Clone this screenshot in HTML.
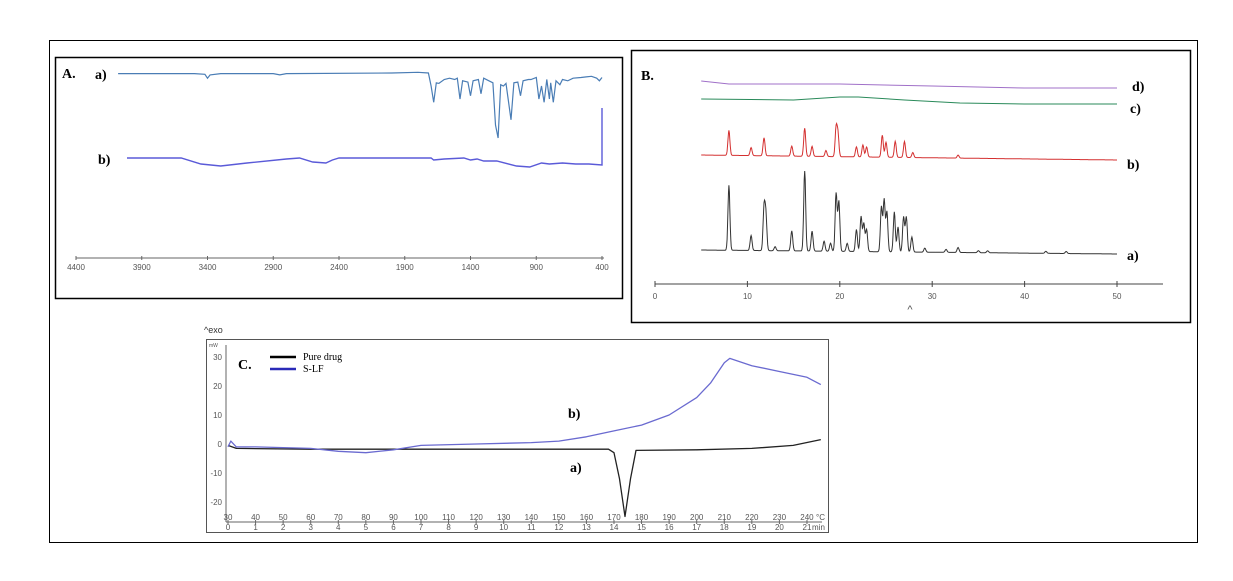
<!DOCTYPE html>
<html><head><meta charset="utf-8"><style>
body{margin:0;background:#fff}
svg{display:block;font-family:"Liberation Sans",sans-serif}
.lab{font-family:"Liberation Serif",serif;font-weight:bold;font-size:14px}
.tk{font-size:8px;fill:#555}
</style></head><body>
<svg id="s" width="1233" height="581" viewBox="0 0 1233 581" xmlns="http://www.w3.org/2000/svg">
<rect x="49.5" y="40.5" width="1148" height="502" fill="none" stroke="#000"/>
<g>
<rect x="55.5" y="57.5" width="567" height="241" fill="none" stroke="#000" stroke-width="1.5"/>
<text x="62" y="78" class="lab">A.</text>
<text x="95" y="79" class="lab">a)</text>
<text x="98" y="164" class="lab">b)</text>
<line x1="76" y1="258" x2="604" y2="258" stroke="#666"/>
<g id="irTicks"></g>
<g id="irMarks"></g>
</g>
<g>
<rect x="631.5" y="50.5" width="559" height="272" fill="none" stroke="#000" stroke-width="1.5"/>
<text x="641" y="80" class="lab">B.</text>
<text x="1132" y="91" class="lab">d)</text>
<text x="1130" y="113" class="lab">c)</text>
<text x="1127" y="169" class="lab">b)</text>
<text x="1127" y="260" class="lab">a)</text>
<line x1="655" y1="284" x2="1163" y2="284" stroke="#444"/>
<text x="910" y="313" font-size="11" fill="#555" text-anchor="middle">^</text>
<g id="xrdTicks"></g>
<g id="xrdMarks"></g>
</g>
<g>
<rect x="206.5" y="339.5" width="622" height="193" fill="none" stroke="#555"/>
<text x="204" y="333" font-size="9" fill="#333">^exo</text>
<text x="209" y="347" font-size="5" fill="#555">mW</text>
<text x="238" y="369" class="lab" font-size="15">C.</text>
<line x1="270" y1="357" x2="296" y2="357" stroke="#000" stroke-width="2.5"/>
<text x="303" y="360" font-family="Liberation Serif,serif" font-size="10">Pure drug</text>
<line x1="270" y1="369" x2="296" y2="369" stroke="#2a2ab8" stroke-width="2.5"/>
<text x="303" y="372" font-family="Liberation Serif,serif" font-size="10">S-LF</text>
<text x="568" y="418" class="lab">b)</text>
<text x="570" y="472" class="lab">a)</text>
<line x1="226" y1="345" x2="226" y2="522" stroke="#666"/>
<line x1="226" y1="522" x2="822" y2="522" stroke="#666"/>
<text x="816" y="520" class="tk" font-size="6">°C</text>
<text x="812" y="530" class="tk" font-size="6">min</text>
<g id="dscTicks"></g>
<g id="dscMarks"></g>
</g>
</svg>
<script>
// IR data
const irWave=[4080,3500,3420,3400,3380,3300,2900,2850,2800,2000,1800,1720,1700,1680,1660,1640,1600,1560,1520,1500,1480,1460,1420,1400,1380,1340,1320,1300,1260,1230,1210,1190,1170,1150,1130,1092,1070,1040,1020,1000,960,940,900,880,860,840,820,800,790,770,750,720,700,660,620,560,520,480,440,420,400];
const irA=[99,99,98,92,97,99,99,97,99,100,101,100,80,55,85,84,90,92,90,92,60,88,86,65,88,90,68,92,88,85,20,0,82,80,84,28,85,86,65,88,90,90,93,60,80,55,90,60,85,55,88,82,90,88,92,93,94,95,92,88,93];
const irWaveB=[4012,3600,3450,3300,3100,2800,2700,2600,2500,2450,2400,1700,1680,1600,1450,1400,1350,1300,1200,1050,950,860,800,700,600,500,400];
const irB=[0,0,6,8,5,1,0,4,5,2,0,0,2,1,0,2,1,3,3,8,9,5,6,5,6,6,7];
const irTickLabels=[4400,3900,3400,2900,2400,1900,1400,900,400];
// XRD data
const xrdPeaksA=[8.0,10.4,11.8,12.0,13.0,14.8,16.2,17.0,18.3,19.0,19.6,19.9,20.8,21.8,22.3,22.6,22.9,24.5,24.8,25.1,25.9,26.3,26.9,27.2,27.8,29.2,31.5,32.8,35,36,42.3,44.5];
const xrdHeightsA=[65,15,42,35,4,20,80,20,10,8,58,50,8,22,35,28,22,45,52,40,40,25,35,35,15,4,3,5,2,2,2,2];
const xrdPeaksB=[8.0,10.4,11.8,14.8,16.2,17.0,18.5,19.6,19.8,21.8,22.5,22.9,24.6,25.0,26.0,27.0,27.9,32.8];
const xrdHeightsB=[25,8,18,10,28,10,6,28,22,10,12,10,22,15,16,16,5,3];
const xrdThetaC=[5,15,20,22,27,33,40,50];
const xrdC=[99,100,97,97,100,103,104,104];
const xrdThetaD=[5,8,20,30,40,50];
const xrdD=[81,84,84,86,88,88];
const xrdTickLabels=[0,10,20,30,40,50];
// DSC data
const dscTempB=[30,31,33,40,60,70,80,90,100,120,140,150,160,170,180,190,200,205,210,212,220,230,240,245];
const dscB=[-1,1,-1,-1,-1.5,-2.5,-3,-2,-0.5,0,0.5,1,2.5,4.5,6.5,10,16,21,28,29.5,27,25,23,20.5];
const dscTempA=[30,33,60,100,168,170,172,174,176,178,200,220,235,245];
const dscA=[-0.5,-1.5,-1.8,-1.8,-1.8,-3,-12,-25,-12,-2.2,-2,-1.5,-0.5,1.5];
const dscYTicks=[30,20,10,0,-10,-20];
const dscTempTicks=[30,40,50,60,70,80,90,100,110,120,130,140,150,160,170,180,190,200,210,220,230,240];
const dscMinTicks=[0,1,2,3,4,5,6,7,8,9,10,11,12,13,14,15,16,17,18,19,20,21];

const NS="http://www.w3.org/2000/svg";
function mk(tag,parent,attrs){const e=document.createElementNS(NS,tag);for(const k in attrs)e.setAttribute(k,attrs[k]);document.getElementById(parent).appendChild(e);return e;}
function pts(xs,ys,fx,fy){return xs.map((v,i)=>fx(v).toFixed(1)+","+fy(ys[i]).toFixed(1)).join(" ");}

const irX=w=>76+(4400-w)/4000*526;
const irYA=t=>138-t*0.65;
const irYB=d=>158+d;
irTickLabels.forEach(v=>{
 const t=mk("text","irTicks",{x:irX(v),y:270,"text-anchor":"middle",class:"tk"});t.textContent=v;
 
 
 const l=mk("line","irTicks",{x1:irX(v),x2:irX(v),y1:256,y2:260,stroke:"#666"});
 
 
});
let p=mk("polyline","irMarks",{points:pts(irWave,irA,irX,irYA),fill:"none",stroke:"#4a7db5","stroke-width":1.2});


p=mk("polyline","irMarks",{points:pts(irWaveB,irB,irX,irYB)+" "+irX(400).toFixed(1)+","+(irYB(irB[irB.length-1])).toFixed(1)+" "+irX(400).toFixed(1)+",108",fill:"none",stroke:"#5a5ad8","stroke-width":1.4});



const xrdX=t=>655+t*9.24;
xrdTickLabels.forEach(v=>{
 const t=mk("text","xrdTicks",{x:xrdX(v),y:299,"text-anchor":"middle",class:"tk","font-size":"10"});t.textContent=v;
 
 
 const l=mk("line","xrdTicks",{x1:xrdX(v),x2:xrdX(v),y1:281,y2:287,stroke:"#444"});
 
 
});
function profile(peaks,hts,b0,b1){const xs=[],ys=[];for(let t=5;t<=50.001;t+=0.05){let h=0;peaks.forEach((pk,i)=>{h+=hts[i]*Math.exp(-Math.pow((t-pk)/0.15,2));});xs.push(t);ys.push(b0+(b1-b0)*(t-5)/45-h);}return [xs,ys];}
let pa=profile(xrdPeaksA,xrdHeightsA,250,254);
p=mk("polyline","xrdMarks",{points:pts(pa[0],pa[1],xrdX,v=>v),fill:"none",stroke:"#333","stroke-width":1});


let pb=profile(xrdPeaksB,xrdHeightsB,155,160);
p=mk("polyline","xrdMarks",{points:pts(pb[0],pb[1],xrdX,v=>v),fill:"none",stroke:"#d43030","stroke-width":1});


p=mk("polyline","xrdMarks",{points:pts(xrdThetaC,xrdC,xrdX,v=>v),fill:"none",stroke:"#2a8a5a","stroke-width":1});


p=mk("polyline","xrdMarks",{points:pts(xrdThetaD,xrdD,xrdX,v=>v),fill:"none",stroke:"#a070c8","stroke-width":1});



const dscX=T=>228+(T-30)*2.757;
const dscY=v=>444-v*2.9;
dscYTicks.forEach(v=>{
 const t=mk("text","dscTicks",{x:222,y:dscY(v)+3,"text-anchor":"end",class:"tk","font-size":"6"});t.textContent=v;
 
 
});
dscTempTicks.forEach(v=>{
 const t=mk("text","dscTicks",{x:dscX(v),y:520,"text-anchor":"middle",class:"tk","font-size":"6"});t.textContent=v;
 
 
});
dscMinTicks.forEach(v=>{
 const t=mk("text","dscTicks",{x:228+v*27.57,y:530,"text-anchor":"middle",class:"tk","font-size":"6"});t.textContent=v;
 
 
 const l=mk("line","dscTicks",{x1:228+v*27.57,x2:228+v*27.57,y1:520,y2:524,stroke:"#666"});
 
 
});
p=mk("polyline","dscMarks",{points:pts(dscTempA,dscA,dscX,dscY),fill:"none",stroke:"#222","stroke-width":1.3,"stroke-linejoin":"round"});


p=mk("polyline","dscMarks",{points:pts(dscTempB,dscB,dscX,dscY),fill:"none",stroke:"#6a6ad0","stroke-width":1.3,"stroke-linejoin":"round"});


</script>
</body></html>
